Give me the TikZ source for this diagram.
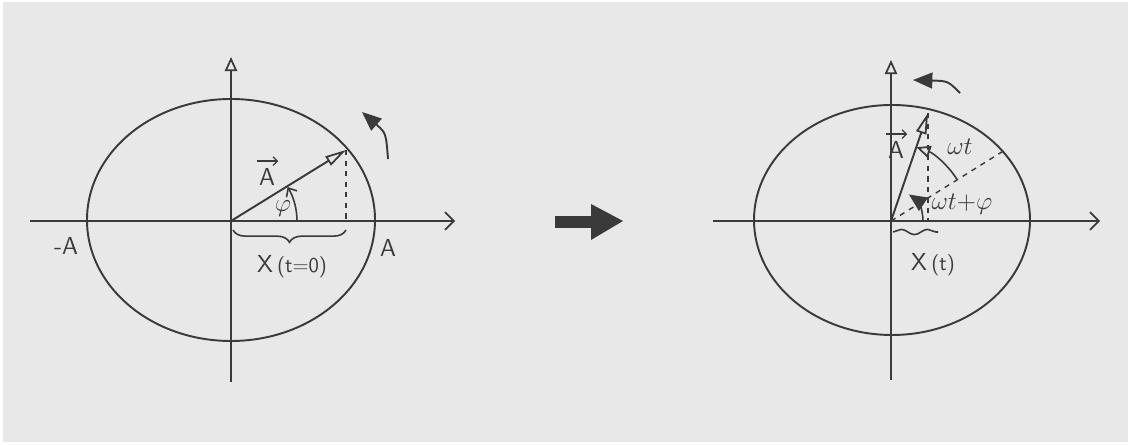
\documentclass[tikz,border=0pt]{standalone}
\usetikzlibrary{arrows.meta,decorations.pathreplacing,decorations.pathmorphing,calc}
\definecolor{bg}{HTML}{E8E8E8}
\definecolor{pen}{HTML}{3A3A3A}
\begin{document}
\begin{tikzpicture}[x=0.02cm,y=0.02cm,
  line/.style={draw=pen,line width=1.1pt},
  thinline/.style={draw=pen,line width=0.9pt},
  dashline/.style={draw=pen,line width=0.8pt,dash pattern=on 3pt off 3pt},
  axisend/.style={-{Straight Barb[length=5pt,width=10pt,line width=1pt]}},
  axistop/.style={-{Triangle[open,length=8pt,width=7pt,line width=1pt]}},
  vecend/.style={-{Triangle[open,length=12pt,width=6pt,line width=1pt]}},
  rotend/.style={-{Triangle[length=11pt,width=9pt]}},
  overarrow/.style={draw=pen,line width=0.7pt,-{Straight Barb[length=2.5pt,width=5pt,line width=0.7pt]}},
  lbl/.style={text=pen,font=\sffamily\fontsize{14}{16}\selectfont,inner sep=0pt}]
\useasboundingbox (0,0) rectangle (1131,445);
\fill[white] (0,0) rectangle (1131,445);
\fill[bg] (3,3) rectangle (1128,443);

% ---------- left diagram ----------
\coordinate (O1) at (231,224);
\coordinate (HL1) at (30,224);
\coordinate (HR1) at (455,224);
\coordinate (VB1) at (231,63);
\coordinate (VT1) at (231,388);
\coordinate (T1) at (346,295);
\coordinate (F1) at (346,224);
\coordinate (R1s) at (388,286);
\coordinate (R1e) at (362,333);

\draw[line] (231,225) ellipse [x radius=144, y radius=121];
\draw[thinline,axisend] (HL1) -- (HR1);
\draw[thinline,axistop] (VB1) -- (VT1);
\draw[line,vecend] (O1) -- (T1);
\draw[dashline] (T1) -- (F1);
\draw[thinline,-{Straight Barb[length=4pt,width=7pt,line width=0.9pt]}] ($(O1)+(66,0)$) arc[start angle=0,end angle=31,radius=66];
\draw[line,rotend] (R1s) .. controls (386,312) .. (R1e);
\draw[thinline,decorate,decoration={brace,mirror,amplitude=7pt}] (233,215) -- (346,215);

\node[lbl] (mA) at (66,199) {-A};
\node[lbl] (pA) at (388,197) {A};
\node[lbl] (vA1) at (267,268) {A};
\draw[overarrow] ($(vA1.north west)+(-2,7)$) -- ($(vA1.north east)+(3,7)$);
\node[lbl] (phi1) at (283,236) {$\varphi$};
\node[lbl] (x0) at (292,178) {X\,{\large(t=0)}};

% ---------- middle arrow ----------
\fill[pen] (555,217) rectangle (594,229);
\fill[pen] (591,205) -- (623,224) -- (591,241) -- cycle;

% ---------- right diagram ----------
\coordinate (O2) at (891,224);
\coordinate (HL2) at (713,224);
\coordinate (HR2) at (1100,224);
\coordinate (VB2) at (891,65);
\coordinate (VT2) at (891,385);
\coordinate (T2) at (928,332);
\coordinate (F2) at (928,224);
\coordinate (D2) at (1005,295);
\coordinate (R2s) at (960,352);
\coordinate (R2e) at (913,365);

\draw[line] (892,225) ellipse [x radius=138, y radius=115];
\draw[thinline,axisend] (HL2) -- (HR2);
\draw[thinline,axistop] (VB2) -- (VT2);
\draw[line,vecend] (O2) -- (T2);
\draw[dashline] (T2) -- (F2);
\draw[dashline] (O2) -- (D2);
\draw[thinline,-{Triangle[open,length=8pt,width=7pt,line width=1pt]}] ($(O2)+(32:78)$) arc[start angle=32,end angle=71,radius=78];
\draw[thinline,-{Triangle[length=10pt,width=9pt]}] ($(O2)+(32,0)$) arc[start angle=0,end angle=56,radius=32];
\draw[line,rotend] (R2s) .. controls (948,364) .. (R2e);
\draw[thinline,decorate,decoration={snake,segment length=15pt,amplitude=1.5pt}] (893,213) -- (938,213);

\node[lbl] (vA2) at (896,295) {A};
\draw[overarrow] ($(vA2.north west)+(-2,7)$) -- ($(vA2.north east)+(3,7)$);
\node[lbl] (wt) at (960,298) {$\omega t$};
\node[lbl] (wtp) at (962,241) {$\omega t{+}\varphi$};
\node[lbl] (xt) at (933,180) {X\,{\large(t)}};
\end{tikzpicture}
\end{document}
